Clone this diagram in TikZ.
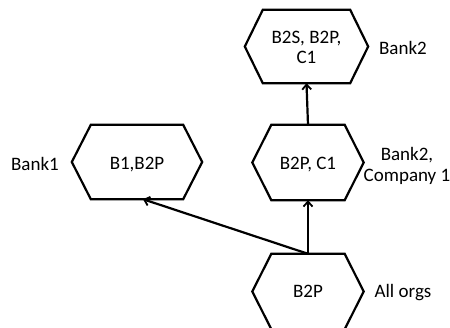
\documentclass[tikz,border=0pt]{standalone}
\usepackage{fontspec}
\setmainfont{Carlito}
\usetikzlibrary{arrows.meta}
\tikzset{
  box/.style={inner sep=0pt, minimum height=#1, align=center},
  hexline/.style={line width=2.2pt, line join=miter},
  lbl/.style={align=center, inner sep=0pt},
  conn/.style={line width=2.2pt, -{Straight Barb[length=5pt,width=9pt,line width=1.8pt]}},
}
\newcommand{\hexdraw}[2]{%
  \draw[hexline] (#1.north west) -- (#1.north east) -- ([xshift=#2]#1.east)
    -- (#1.south east) -- (#1.south west) -- ([xshift=-#2]#1.west) -- cycle;}
\newcommand{\dn}[2]{\raisebox{-#1}[\height][\depth]{\begin{tabular}{@{}c@{}}#2\end{tabular}}}
\begin{document}
\begin{tikzpicture}[x=1pt,y=-1pt,font=\fontsize{19}{20.5}\selectfont]
\useasboundingbox (0,0) rectangle (450,327);
\node[box=73pt, minimum width=87pt] (top) at (306.5,46.5) {\dn{3pt}{B2S, B2P,\\C1}};
\node[box=75pt, minimum width=73pt] (mid) at (308,162.5) {\dn{3pt}{B2P, C1}};
\node[box=75pt, minimum width=73pt] (bot) at (308,291.5) {\dn{1.5pt}{B2P}};
\node[box=74pt, minimum width=92pt] (left) at (137,162) {\dn{3pt}{B1,B2P}};
\hexdraw{top}{18pt}
\hexdraw{mid}{19pt}
\hexdraw{bot}{19pt}
\hexdraw{left}{19pt}
\node[lbl] (l1) at (403,48) {Bank2};
\node[lbl] (l2) at (35,164) {Bank1};
\node[lbl] (l3) at (407,166) {Bank2,\\Company 1};
\node[lbl] (l4) at (403,293) {All orgs};
\draw[conn] (bot.north) -- (mid.south);
\draw[conn] (mid.north) -- (top.south);
\draw[conn] (bot.north) -- ([xshift=6pt]left.south);
\end{tikzpicture}
\end{document}
